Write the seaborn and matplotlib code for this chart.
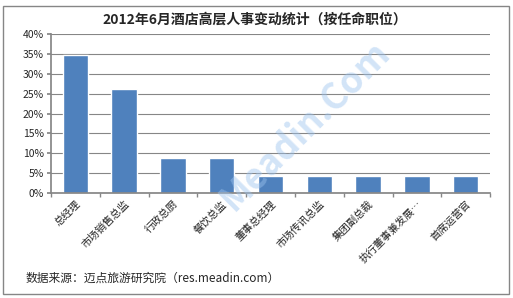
import matplotlib
matplotlib.use("Agg")
import matplotlib.pyplot as plt
import seaborn as sns
import pandas as pd
from matplotlib.ticker import FuncFormatter, MultipleLocator, FixedLocator

categories = ["总经理", "市场销售总监", "行政总厨", "餐饮总监", "董事总经理",
              "市场传讯总监", "集团副总裁", "执行董事兼发展…", "首席运营官"]
values = [0.348, 0.261, 0.087, 0.087, 0.0435, 0.0435, 0.0435, 0.0435, 0.0435]
title = "2012年6月酒店高层人事变动统计（按任命职位）"
source = "数据来源：迈点旅游研究院（res.meadin.com）"

sns.set_theme(style="white")
plt.rcParams['font.family'] = ['Noto Sans CJK SC', 'DejaVu Sans']

df = pd.DataFrame({"cat": categories, "val": values})

fig = plt.figure(figsize=(5.13, 2.98), dpi=100)
ax = fig.add_axes([0.0994, 0.352, 0.856, 0.534])
sns.barplot(data=df, x="cat", y="val", color="#4F81BD", width=0.52, ax=ax, saturation=1)

ax.set_ylim(0, 0.4)
ax.yaxis.set_major_locator(MultipleLocator(0.05))
ax.yaxis.set_major_formatter(FuncFormatter(lambda v, p: f"{v*100:.0f}%"))
ax.set_xlim(-0.5, len(categories) - 0.5)
ax.grid(axis="y", color="#868686", linewidth=0.8)
ax.set_axisbelow(True)
for s in ["top", "right"]:
    ax.spines[s].set_visible(False)
ax.spines["left"].set_color("#868686")
ax.spines["bottom"].set_color("#868686")
ax.set_xlabel("")
ax.set_ylabel("")
ax.tick_params(axis="y", labelsize=7.5, length=3, direction="out", left=True, color="#868686", pad=2)
ax.set_xticks(range(len(categories)))
ax.set_xticklabels(categories, rotation=45, ha="right", rotation_mode="anchor", fontsize=7.5)
ax.tick_params(axis="x", length=0, pad=4)
ax.xaxis.set_minor_locator(FixedLocator([i + 0.5 for i in range(-1, len(categories))]))
ax.tick_params(axis="x", which="minor", length=3, direction="out", bottom=True, color="#868686")

fig.text(0.497, 0.933, title, ha="center", va="center", fontsize=10, weight="bold")
fig.text(0.049, 0.067, source, ha="left", va="center", fontsize=8.5)
fig.text(0.595, 0.58, "Meadin.Com", rotation=45, ha="center", va="center",
         fontsize=26, weight="bold", color="#9CC3EE", alpha=0.45)

border = plt.Rectangle((0.006, 0.015), 0.986, 0.965, transform=fig.transFigure,
                       fill=False, edgecolor="#868686", linewidth=1)
fig.patches.append(border)

fig.savefig("out.png", dpi=100)
